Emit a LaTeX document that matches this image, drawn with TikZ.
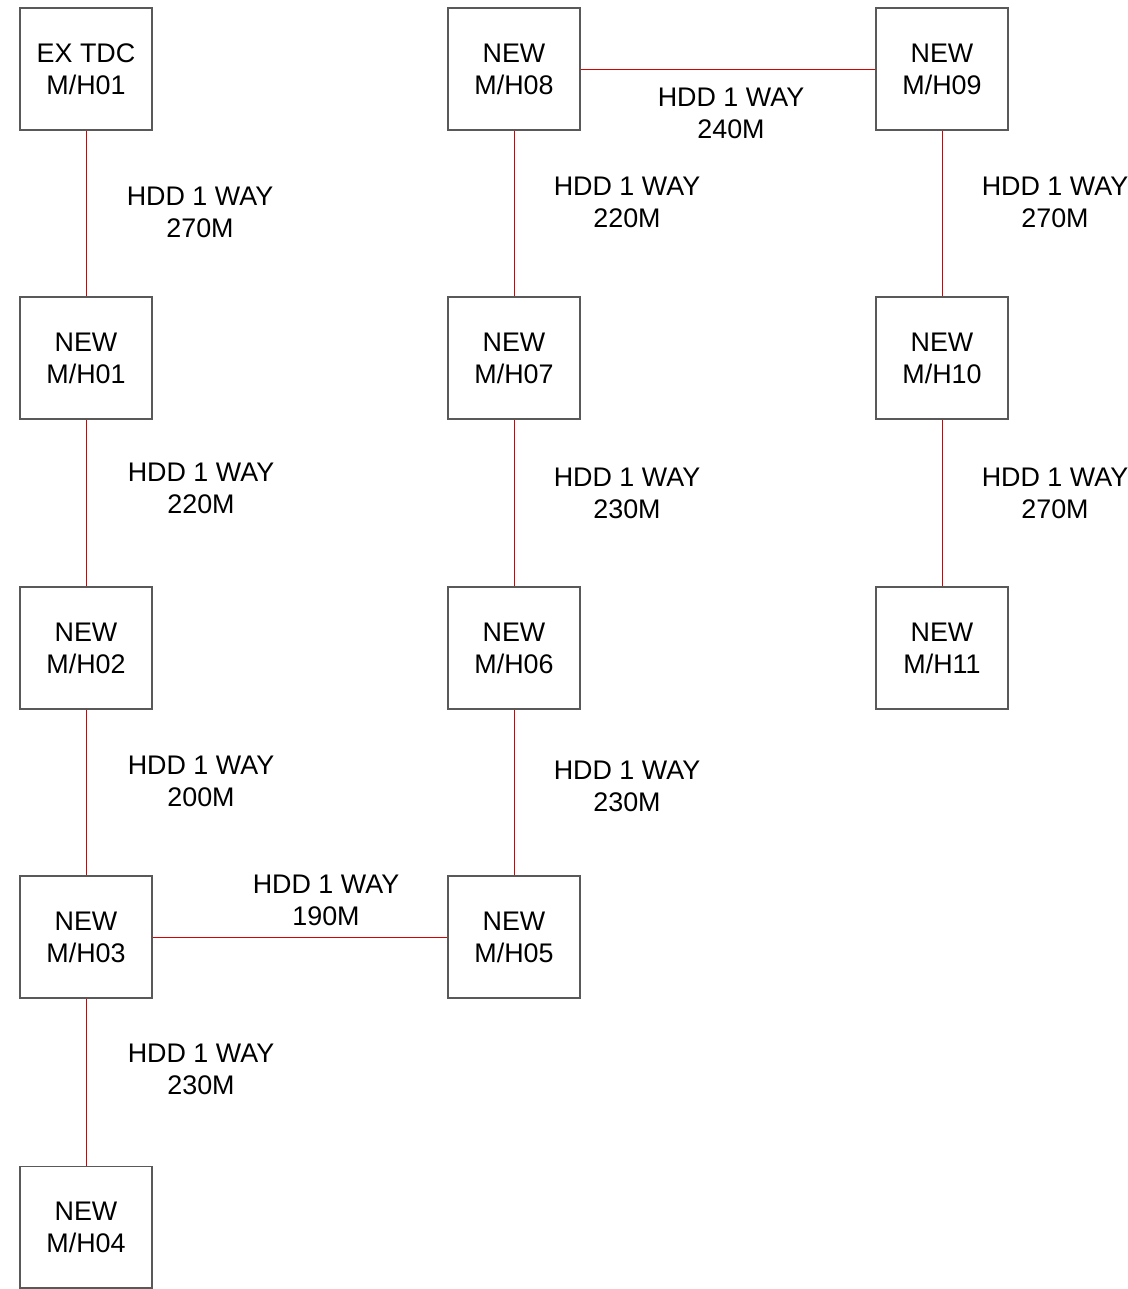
\documentclass[tikz,border=0pt]{standalone}
\usepackage{fontspec}
\setmainfont{Liberation Sans}
\usepackage{tikz}
\usetikzlibrary{positioning}
\tikzset{every node/.append style={font=\fontsize{15.3}{18.2}\selectfont}}
\tikzset{
    mhbox/.style={draw=black!65, line width=0.6pt, minimum width=2.64cm, minimum height=2.44cm, align=center, inner sep=0pt},
    duct/.style={draw=red!85!black, line width=0.4pt},
    hddlbl/.style={align=center, inner sep=0pt}
}

\begin{document}
\begin{tikzpicture}[x=0.02cm, y=-0.02cm]
    \useasboundingbox (0,0) rectangle (1128,1289);
    % manholes
    \node[mhbox] (exh01) at (86,69)   {EX TDC\\M/H01};
    \node[mhbox] (mh01)  at (86,358)  {NEW\\M/H01};
    \node[mhbox] (mh02)  at (86,648)  {NEW\\M/H02};
    \node[mhbox] (mh03)  at (86,937)  {NEW\\M/H03};
    \node[mhbox] (mh04)  at (86,1227) {NEW\\M/H04};
    \node[mhbox] (mh05)  at (514,937) {NEW\\M/H05};
    \node[mhbox] (mh06)  at (514,648) {NEW\\M/H06};
    \node[mhbox] (mh07)  at (514,358) {NEW\\M/H07};
    \node[mhbox] (mh08)  at (514,69)  {NEW\\M/H08};
    \node[mhbox] (mh09)  at (942,69)  {NEW\\M/H09};
    \node[mhbox] (mh10)  at (942,358) {NEW\\M/H10};
    \node[mhbox] (mh11)  at (942,648) {NEW\\M/H11};
    % ducts
    \foreach \a/\b in {exh01/mh01, mh01/mh02, mh02/mh03, mh03/mh04,
                       mh05/mh06, mh06/mh07, mh07/mh08, mh09/mh10, mh10/mh11}
        \draw[duct] (\a) -- (\b);
    \draw[duct] (mh03) -- (mh05);
    \draw[duct] (mh08) -- (mh09);
    % lengths
    \node[hddlbl] (len1)  at (200,212)  {HDD 1 WAY\\270M};
    \node[hddlbl] (len2)  at (201,488)  {HDD 1 WAY\\220M};
    \node[hddlbl] (len3)  at (201,781)  {HDD 1 WAY\\200M};
    \node[hddlbl] (len4)  at (201,1069) {HDD 1 WAY\\230M};
    \node[hddlbl] (len5)  at (326,900)  {HDD 1 WAY\\190M};
    \node[hddlbl] (len6)  at (627,786)  {HDD 1 WAY\\230M};
    \node[hddlbl] (len7)  at (627,493)  {HDD 1 WAY\\230M};
    \node[hddlbl] (len8)  at (627,202)  {HDD 1 WAY\\220M};
    \node[hddlbl] (len9)  at (731,113)  {HDD 1 WAY\\240M};
    \node[hddlbl] (len10) at (1055,202) {HDD 1 WAY\\270M};
    \node[hddlbl] (len11) at (1055,493) {HDD 1 WAY\\270M};
\end{tikzpicture}
\end{document}
